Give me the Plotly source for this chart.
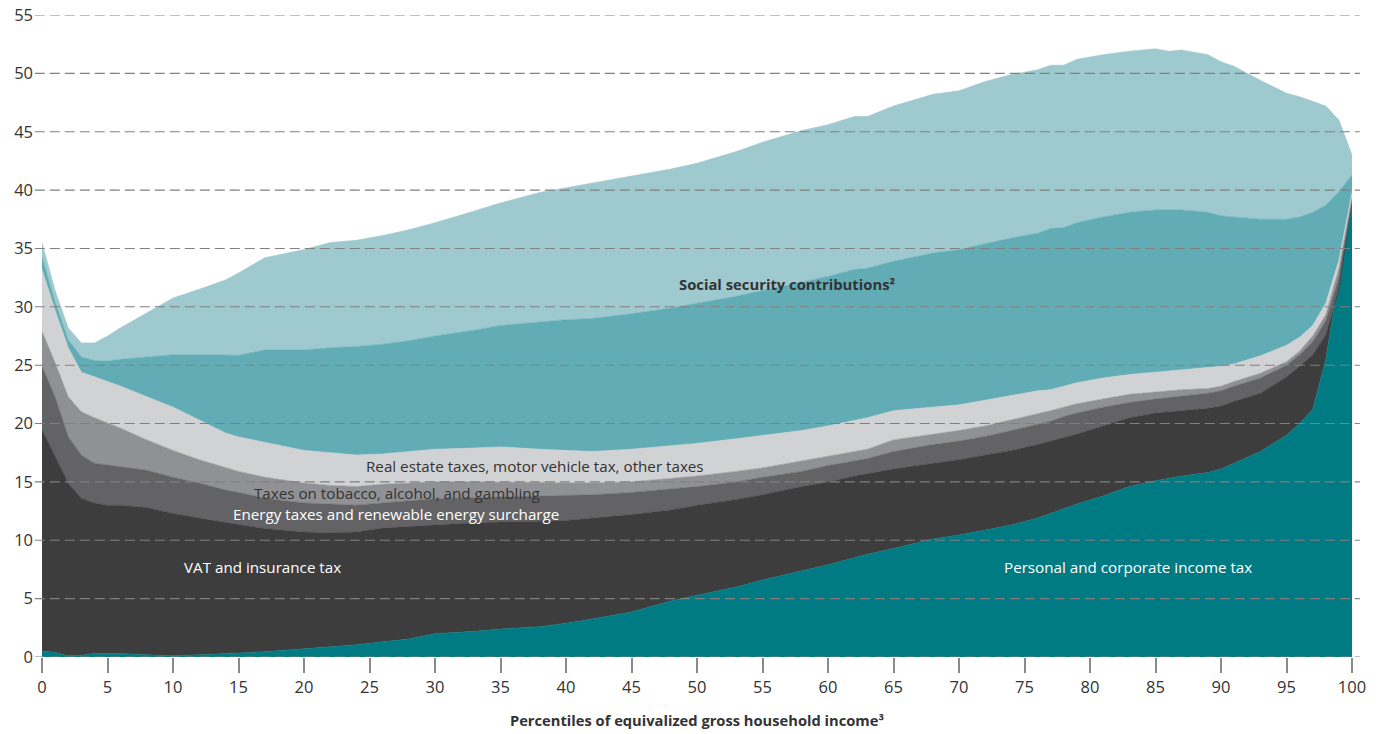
import plotly.graph_objects as go

# Percentiles of equivalized gross household income
percentiles = [0, 1, 2, 3, 4, 5, 6, 8, 10, 12, 14, 15, 17, 20, 22, 24, 26, 28, 30, 33, 35, 38, 40,
               42, 45, 48, 50, 53, 55, 58, 60, 62, 63, 65, 68, 70, 72, 74, 76, 77, 78, 79, 81, 83,
               85, 86, 87, 89, 90, 91, 93, 95, 96, 97, 98, 99, 100]

# Cumulative tax burden (% of gross income), read as the upper edge of each stacked layer
top_income_tax = [0.5, 0.4, 0.1, 0.15, 0.3, 0.3, 0.3, 0.2, 0.1, 0.2, 0.3, 0.4, 0.45, 0.7, 0.85, 1.05,
                  1.3, 1.55, 2.0, 2.2, 2.4, 2.6, 2.9, 3.25, 3.85, 4.8, 5.3, 6.0, 6.6, 7.4, 7.9, 8.5,
                  8.8, 9.3, 10.1, 10.45, 10.9, 11.3, 11.9, 12.3, 12.7, 13.1, 13.8, 14.6, 15.1, 15.3,
                  15.5, 15.8, 16.1, 16.6, 17.6, 19.0, 20.0, 21.2, 25.5, 32.5, 38.5]
top_vat = [19.5, 17.2, 14.9, 13.6, 13.2, 13.0, 13.0, 12.8, 12.3, 11.9, 11.5, 11.35, 11.0, 10.7, 10.65,
           10.7, 11.05, 11.2, 11.3, 11.5, 11.55, 11.65, 11.7, 11.9, 12.2, 12.6, 13.0, 13.5, 13.9, 14.6,
           15.0, 15.5, 15.7, 16.1, 16.6, 16.9, 17.3, 17.7, 18.2, 18.5, 18.8, 19.1, 19.8, 20.5, 20.9,
           21.0, 21.1, 21.3, 21.5, 21.9, 22.6, 24.0, 24.9, 25.9, 27.6, 31.5, 39.0]
top_energy = [24.9, 22.3, 18.9, 17.3, 16.6, 16.45, 16.3, 16.0, 15.4, 14.9, 14.3, 14.1, 13.6, 13.2, 13.1,
              13.0, 13.2, 13.4, 13.55, 13.65, 13.7, 13.75, 13.8, 13.9, 14.1, 14.4, 14.6, 15.0, 15.4,
              15.9, 16.4, 16.8, 17.0, 17.6, 18.2, 18.5, 18.9, 19.4, 19.9, 20.2, 20.6, 20.9, 21.4, 21.8,
              22.1, 22.2, 22.35, 22.6, 22.8, 23.2, 23.9, 25.0, 25.9, 27.0, 28.8, 32.5, 39.2]
top_tobacco = [27.9, 25.2, 22.3, 21.0, 20.5, 20.05, 19.6, 18.6, 17.7, 16.9, 16.2, 15.9, 15.4, 14.9, 14.7,
               14.6, 14.8, 14.9, 15.0, 15.0, 15.0, 14.95, 14.9, 14.9, 15.0, 15.3, 15.5, 15.9, 16.2, 16.8,
               17.2, 17.6, 17.8, 18.6, 19.1, 19.4, 19.8, 20.3, 20.8, 21.1, 21.4, 21.7, 22.1, 22.5, 22.7,
               22.8, 22.9, 23.0, 23.2, 23.6, 24.3, 25.3, 26.2, 27.5, 29.3, 33.3, 39.4]
top_real_estate = [33.2, 29.7, 26.5, 24.4, 24.0, 23.6, 23.2, 22.3, 21.4, 20.3, 19.2, 18.85, 18.4, 17.7,
                   17.5, 17.3, 17.4, 17.6, 17.8, 17.9, 18.0, 17.8, 17.7, 17.6, 17.8, 18.1, 18.3, 18.7,
                   19.0, 19.4, 19.8, 20.3, 20.5, 21.1, 21.4, 21.6, 22.0, 22.4, 22.8, 22.9, 23.2, 23.5,
                   23.9, 24.2, 24.4, 24.5, 24.6, 24.8, 24.9, 25.1, 25.8, 26.7, 27.4, 28.4, 30.3, 34.0, 39.8]
top_ssc_lower = [34.3, 30.4, 27.2, 25.7, 25.4, 25.35, 25.5, 25.7, 25.9, 25.9, 25.85, 25.85, 26.3, 26.3,
                 26.5, 26.6, 26.8, 27.1, 27.5, 28.0, 28.4, 28.7, 28.9, 29.0, 29.4, 29.9, 30.3, 30.9, 31.4,
                 32.1, 32.6, 33.2, 33.3, 33.9, 34.6, 34.9, 35.4, 35.9, 36.3, 36.7, 36.8, 37.2, 37.7, 38.1,
                 38.3, 38.3, 38.3, 38.1, 37.8, 37.7, 37.5, 37.5, 37.7, 38.1, 38.7, 39.85, 41.3]
top_ssc_upper = [35.5, 31.4, 28.2, 26.9, 26.9, 27.5, 28.2, 29.5, 30.75, 31.5, 32.3, 32.9, 34.2, 34.9,
                 35.5, 35.7, 36.1, 36.6, 37.2, 38.2, 38.9, 39.8, 40.2, 40.6, 41.2, 41.8, 42.3, 43.3, 44.1,
                 45.1, 45.6, 46.3, 46.3, 47.2, 48.2, 48.5, 49.3, 49.9, 50.3, 50.7, 50.7, 51.2, 51.6, 51.9,
                 52.1, 51.9, 52.0, 51.6, 51.0, 50.6, 49.4, 48.3, 48.0, 47.6, 47.2, 46.0, 43.0]

layer_names = ["Personal and corporate income tax", "VAT and insurance tax",
               "Energy taxes and renewable energy surcharge", "Taxes on tobacco, alcohol, and gambling",
               "Real estate taxes, motor vehicle tax, other taxes", "Social security contributions (part 1)",
               "Social security contributions (part 2)"]
layer_tops = [top_income_tax, top_vat, top_energy, top_tobacco, top_real_estate, top_ssc_lower, top_ssc_upper]
layer_colors = ["#007B83", "#3D3D3D", "#636365", "#909194", "#D1D2D4", "#62ADB5", "#9EC9CF"]

y_ticks = [0, 5, 10, 15, 20, 25, 30, 35, 40, 45, 50, 55]
x_ticks = [0, 5, 10, 15, 20, 25, 30, 35, 40, 45, 50, 55, 60, 65, 70, 75, 80, 85, 90, 95, 100]

FONT = "Open Sans"

fig = go.Figure()
for i, (name, tops, col) in enumerate(zip(layer_names, layer_tops, layer_colors)):
    fig.add_trace(go.Scatter(
        x=percentiles, y=tops, name=name, mode="lines",
        line=dict(color=col, width=0.6),
        fill="tozeroy" if i == 0 else "tonexty",
        fillcolor=col, hoverinfo="skip", showlegend=False,
    ))

# dashed gridlines drawn above the areas
for yv in y_ticks:
    fig.add_shape(type="line", xref="paper", yref="y", x0=-0.0055, x1=1.006, y0=yv, y1=yv,
                  line=dict(color="#808080", width=1.1, dash="10px,5px"), layer="above")

labels = [
    dict(x=56.9, y=31.95, text="<b>Social security contributions²</b>", color="#333333", size=14.8),
    dict(x=37.6, y=16.4, text="Real estate taxes, motor vehicle tax, other taxes", color="#333333", size=15.2),
    dict(x=27.1, y=14.05, text="Taxes on tobacco, alcohol, and gambling", color="#333333", size=15.2),
    dict(x=27.0, y=12.25, text="Energy taxes and renewable energy surcharge", color="#FFFFFF", size=15.2),
    dict(x=16.8, y=7.7, text="VAT and insurance tax", color="#FFFFFF", size=15.2),
    dict(x=82.9, y=7.7, text="Personal and corporate income tax", color="#FFFFFF", size=15.2),
]
for lb in labels:
    fig.add_annotation(x=lb["x"], y=lb["y"], text=lb["text"], showarrow=False,
                       font=dict(family=FONT, size=lb["size"], color=lb["color"]))

fig.update_layout(
    width=1383, height=734,
    margin=dict(l=42, r=31, t=15, b=77, autoexpand=False),
    paper_bgcolor="white", plot_bgcolor="white",
    font=dict(family=FONT, color="#333333"),
    xaxis=dict(range=[0, 100], tickvals=x_ticks, ticks="outside", ticklen=15, tickwidth=1.5,
               tickcolor="#8a8a8a", showgrid=False, zeroline=False, showline=False, automargin=False,
               tickfont=dict(size=16.5, color="#333333"),
               title=dict(text="<b>Percentiles of equivalized gross household income³</b>",
                          font=dict(size=14.7, color="#333333"), standoff=18)),
    yaxis=dict(range=[0, 55], tickvals=y_ticks, showgrid=False, zeroline=False, showline=False,
               automargin=False, ticks="", tickfont=dict(size=16.5, color="#333333"),
               ticklabelstandoff=8),
)

fig.write_html("out.html", config={"displayModeBar": False},
               post_script="document.body.style.margin='0px';document.body.style.padding='0px';")
